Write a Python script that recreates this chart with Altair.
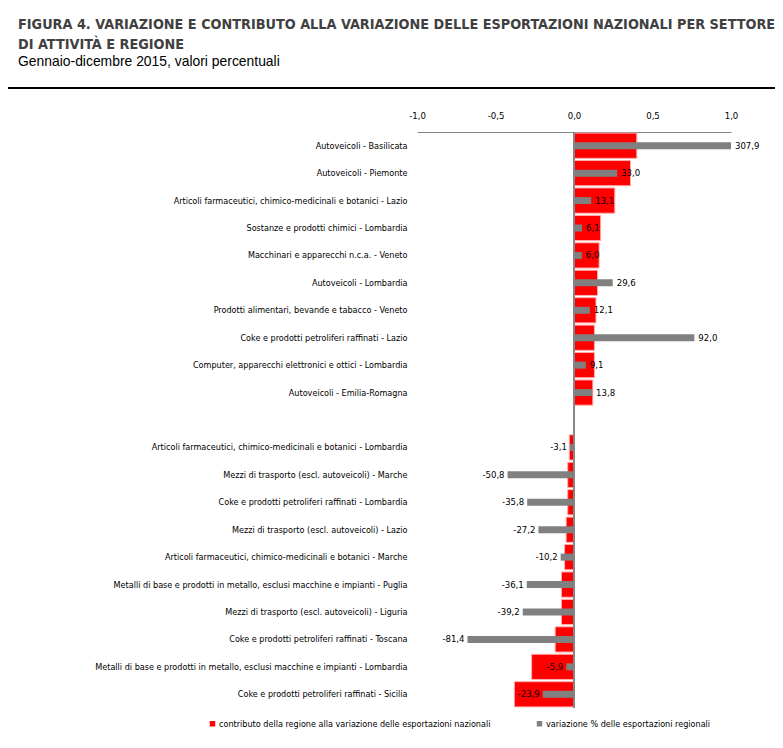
import altair as alt
import pandas as pd

categories = [
    "Autoveicoli - Basilicata",
    "Autoveicoli - Piemonte",
    "Articoli farmaceutici, chimico-medicinali e botanici - Lazio",
    "Sostanze e prodotti chimici - Lombardia",
    "Macchinari e apparecchi n.c.a. - Veneto",
    "Autoveicoli - Lombardia",
    "Prodotti alimentari, bevande e tabacco - Veneto",
    "Coke e prodotti petroliferi raffinati - Lazio",
    "Computer, apparecchi elettronici e ottici - Lombardia",
    "Autoveicoli - Emilia-Romagna",
    "Articoli farmaceutici, chimico-medicinali e botanici - Lombardia",
    "Mezzi di trasporto (escl. autoveicoli) - Marche",
    "Coke e prodotti petroliferi raffinati - Lombardia",
    "Mezzi di trasporto (escl. autoveicoli) - Lazio",
    "Articoli farmaceutici, chimico-medicinali e botanici - Marche",
    "Metalli di base e prodotti in metallo, esclusi macchine e impianti - Puglia",
    "Mezzi di trasporto (escl. autoveicoli) - Liguria",
    "Coke e prodotti petroliferi raffinati - Toscana",
    "Metalli di base e prodotti in metallo, esclusi macchine e impianti - Lombardia",
    "Coke e prodotti petroliferi raffinati - Sicilia",
]
contributo = [0.40, 0.36, 0.26, 0.17, 0.16, 0.15, 0.14, 0.13, 0.13, 0.12,
              -0.03, -0.04, -0.04, -0.05, -0.06, -0.08, -0.08, -0.12, -0.27, -0.38]
variazione = [307.9, 33.0, 13.1, 6.1, 6.0, 29.6, 12.1, 92.0, 9.1, 13.8,
              -3.1, -50.8, -35.8, -27.2, -10.2, -36.1, -39.2, -81.4, -5.9, -23.9]

series = ["contributo della regione alla variazione delle esportazioni nazionali",
          "variazione % delle esportazioni regionali"]
colors = ["#FF0000", "#808080"]

title_lines = ["FIGURA 4. VARIAZIONE E CONTRIBUTO ALLA VARIAZIONE DELLE ESPORTAZIONI NAZIONALI PER SETTORE",
               "DI ATTIVITÀ E REGIONE"]
subtitle = "Gennaio-dicembre 2015, valori percentuali"
x_ticks = [-1.0, -0.5, 0.0, 0.5, 1.0]

y_domain = categories[:10] + [" "] + categories[10:]

NARROW = "DejaVu Sans Condensed, Liberation Sans Narrow, sans-serif"
REG = "Liberation Sans, Arial, sans-serif"

df_red = pd.DataFrame({"cat": categories, "val": contributo, "serie": series[0]})
df_gray = pd.DataFrame({"cat": categories, "val": variazione, "serie": series[1]})
df_gray["lab"] = [f"{v:.1f}".replace(".", ",") for v in variazione]

color = alt.Color("serie:N", scale=alt.Scale(domain=series, range=colors),
                  legend=alt.Legend(title=None, orient="none", legendX=-209, legendY=587,
                                    direction="horizontal", symbolType="square",
                                    symbolSize=30, symbolStrokeWidth=0,
                                    labelFont=NARROW, labelFontSize=9, labelLimit=0,
                                    labelColor="#000000", labelOffset=2,
                                    columnPadding=44))

yenc = alt.Y("cat:N", sort=y_domain,
             scale=alt.Scale(domain=y_domain, paddingInner=0.08, paddingOuter=0.04),
             axis=alt.Axis(title=None, domain=False, ticks=False, labelPadding=10,
                           labelLimit=450, labelFont=NARROW, labelFontSize=9,
                           labelColor="#000000"))

xred_scale = alt.Scale(domain=[-1, 1], nice=False, zero=False)
red = alt.Chart(df_red).mark_bar(stroke="#FFB0B0", strokeWidth=1).encode(
    x=alt.X("val:Q", scale=xred_scale,
            axis=alt.Axis(orient="top", title=None, values=x_ticks, ticks=False, grid=False,
                          domainColor="#868686", domainWidth=1, labelPadding=12,
                          labelFlush=False,
                          labelFont=NARROW, labelFontSize=9.5, labelColor="#000000",
                          labelExpr="replace(replace(format(datum.value, '.1f'), '.', ','), '\u2212', '-')")),
    y=yenc,
    color=color,
)
zero = alt.Chart(df_red).mark_rule(color="#868686", strokeWidth=1).encode(
    x=alt.datum(0),
)
hline = alt.Chart(df_red).mark_rule(color="#000000", strokeWidth=1.5).encode(
    x=alt.value(-409), x2=alt.value(358), y=alt.value(-44)
)

xg_scale = alt.Scale(domain=[-120, 120], nice=False, zero=False, clamp=True)
gray = alt.Chart(df_gray).mark_bar(size=7).encode(
    x=alt.X("val:Q", scale=xg_scale, axis=None),
    y=alt.Y("cat:N", sort=y_domain),
    color=color,
)
tpos = alt.Chart(df_gray).transform_filter("datum.val >= 0").mark_text(
    align="left", dx=4, font=NARROW, fontSize=9.5, color="#000000", baseline="middle"
).encode(
    x=alt.X("val:Q", scale=xg_scale, axis=None),
    y=alt.Y("cat:N", sort=y_domain),
    text="lab:N",
)
tneg = alt.Chart(df_gray).transform_filter("datum.val < 0").mark_text(
    align="right", dx=-3, font=NARROW, fontSize=9.5, color="#000000", baseline="middle"
).encode(
    x=alt.X("val:Q", scale=xg_scale, axis=None),
    y=alt.Y("cat:N", sort=y_domain),
    text="lab:N",
)

left = alt.layer(red, zero, hline)
right = alt.layer(gray, tpos, tneg)

chart = alt.layer(left, right).resolve_scale(x="independent").properties(
    width=314, height=576,
    autosize=alt.AutoSizeParams(type="none"),
    padding={"left": 409, "top": 124, "right": 44, "bottom": 26},
    title=alt.TitleParams(text=title_lines, subtitle=subtitle, anchor="start", frame="group",
                          dx=-399, offset=18, font=NARROW, fontSize=14.3, fontWeight="bold",
                          color="#404040", lineHeight=20, subtitleFont=REG,
                          subtitleFontSize=13.9, subtitleColor="#000000", subtitlePadding=3),
).configure_view(stroke=None)

chart.save("out.html", embed_options={"renderer": "svg", "actions": False})
